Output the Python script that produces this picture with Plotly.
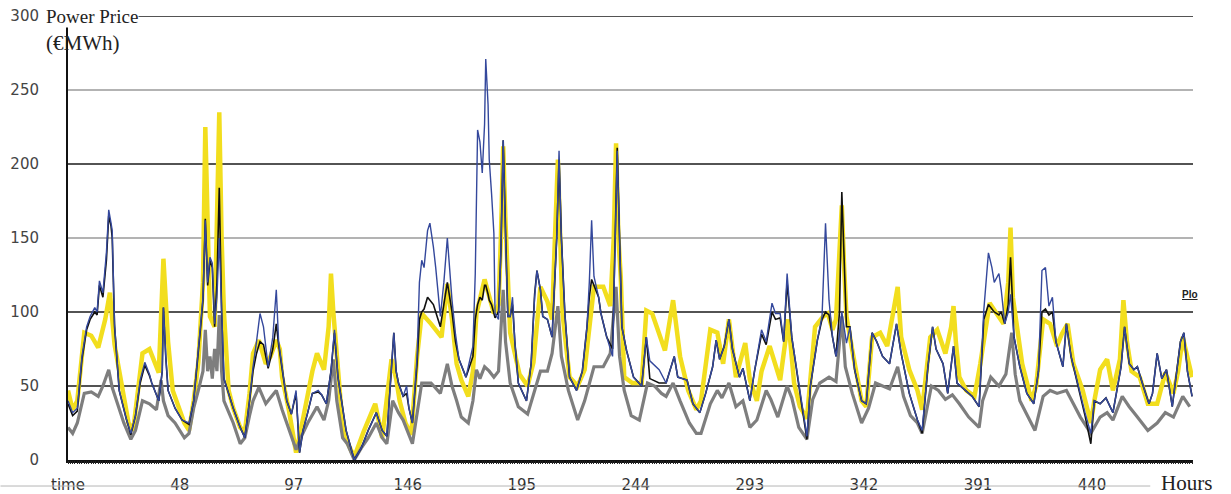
import plotly.graph_objects as go

# ---------------- data (hour, price in EUR/MWh) ----------------
yellow_hours = [0, 2, 4, 7, 10, 13, 16, 18, 20, 23,
                26, 28, 30, 32, 35, 38, 39, 41, 43, 45,
                48, 50, 52, 54, 56, 58, 59, 60, 61, 63,
                64, 65, 66, 67, 69, 71, 74, 76, 78, 79.5,
                82, 85, 87, 89.5, 91, 92, 95, 98, 100, 102.5,
                105, 107, 110, 112, 113, 114, 115.5, 118, 120, 123,
                127, 130, 132, 135, 137, 139, 141, 142.5, 145, 147.5,
                150, 152, 156, 160.5, 163, 165, 167, 169, 172, 174,
                175.5, 179, 183, 185, 186, 187, 188, 190, 194, 197.5,
                200, 203, 206, 208, 209, 210.5, 211.5, 212.5, 215.5, 219,
                222, 226, 230, 233, 234.5, 235.5, 236.5, 237.5, 239, 242.5,
                246.5, 248.5, 251, 254, 256.5, 260, 263, 266.5, 270, 272,
                276, 279, 281.5, 284, 287, 291, 293, 296, 298, 301.5,
                306, 309.5, 312, 314.5, 317.5, 321, 324.5, 326.5, 328.5, 330,
                331.5, 332.5, 333.5, 334.5, 337, 341, 343, 345.5, 349, 352,
                356.5, 358, 361.5, 365, 367, 370.5, 373.5, 377, 379.5, 380.5,
                381.5, 383, 386, 389.5, 392, 396, 399, 402, 404, 405,
                406, 407, 410, 414, 416, 419, 422, 425, 427, 429.5,
                431, 432, 436, 439.5, 441, 443.5, 446.5, 449, 452, 453.5,
                455, 457, 460.5, 464, 468, 471.5, 475, 477, 479, 481,
                483]
yellow_price = [47, 34, 40, 86, 84, 76, 95, 113, 78, 50,
                25, 20, 45, 72, 75, 62, 59, 136, 80, 47,
                33, 25, 20, 40, 66, 120, 225, 150, 97, 90,
                160, 235, 150, 100, 47, 35, 22, 19, 45, 72,
                81, 65, 70, 81, 75, 56, 33, 5, 20, 40,
                60, 72, 61, 90, 126, 100, 68, 23, 12, 2,
                19, 30, 38, 15, 40, 68, 55, 40, 25, 17,
                70, 99, 92, 83, 119, 95, 65, 54, 43, 60,
                99, 122, 99, 105, 150, 212, 160, 86, 58, 50,
                66, 117, 107, 95, 140, 203, 150, 99, 56, 50,
                61, 117, 117, 104, 150, 214, 150, 124, 56, 52,
                52, 101, 99, 85, 74, 108, 70, 47, 34, 40,
                88, 86, 65, 95, 56, 79, 54, 40, 60, 77,
                54, 95, 52, 36, 28, 90, 97, 99, 88, 95,
                140, 172, 130, 97, 74, 40, 36, 83, 86, 77,
                117, 83, 61, 47, 34, 83, 88, 72, 90, 104,
                80, 56, 47, 43, 65, 106, 99, 92, 120, 157,
                110, 99, 65, 40, 50, 95, 92, 77, 85, 92,
                75, 65, 47, 25, 40, 61, 68, 47, 68, 108,
                80, 60, 56, 38, 38, 59, 45, 60, 83, 70,
                56]

blue_hours = [0, 2, 4, 6, 8, 9.5, 11.5, 12.5, 13.5, 15,
              16.5, 17.5, 18.5, 19, 20, 22, 25, 27, 29, 31,
              33, 35, 36, 39, 40.5, 41, 42, 43, 46, 49,
              52, 54, 57, 58, 59, 60, 61, 62, 63, 64,
              65, 66, 67, 69, 71, 74, 76, 78, 79.5, 81,
              82.5, 84, 86, 88, 89.5, 90.5, 92, 94, 96, 98,
              99.5, 101, 103, 105, 107.5, 109, 111, 113, 114.5, 116,
              119.5, 123, 126, 129, 132.5, 135, 137, 139, 140, 141,
              142, 144, 145.5, 146.5, 148, 150, 151, 152, 153, 154.5,
              155.5, 157, 158, 160, 161.5, 163, 164, 165, 166.5, 168,
              171, 174, 175, 176, 177, 178, 179, 179.5, 180.5, 181,
              182, 183, 183.5, 185, 186, 187, 188, 189, 190, 191,
              192, 193.5, 197, 199, 200.5, 201.5, 203, 204, 206, 208,
              210, 211, 212, 213.5, 215.5, 218.5, 221, 223, 224, 225,
              226, 228, 229, 231.5, 234, 235.5, 236, 237, 238, 240,
              243, 246.5, 248.5, 250, 254, 257, 260.5, 262, 266, 268.5,
              271.5, 274, 277, 278.5, 280, 282, 284, 285.5, 288.5, 290,
              293, 295, 298, 300, 302.5, 304, 306, 307.5, 309, 311,
              313, 315, 317.5, 319, 322, 324, 325.5, 327, 328.5, 330,
              331.5, 332.5, 334.5, 336, 338, 341, 343, 345.5, 347.5, 350,
              353, 356, 358, 361.5, 365, 367, 369.5, 371.5, 373, 376,
              378, 380.5, 382, 385, 388.5, 391.5, 393.5, 395.5, 397, 398,
              400, 401, 402.5, 404, 405, 406.5, 409, 412, 415, 417,
              418.5, 420, 421.5, 423, 424.5, 427.5, 429, 431, 434, 437,
              439.5, 441, 443.5, 446, 449, 452.5, 454, 456, 458, 459.5,
              462, 464.5, 466, 468, 470, 472, 474.5, 476.5, 478, 479.5,
              481, 483]
blue_price = [40, 32, 35, 70, 90, 97, 103, 100, 121, 113,
              140, 169, 160, 155, 92, 47, 28, 18, 30, 54,
              66, 58, 52, 40, 60, 103, 70, 47, 35, 27,
              25, 40, 92, 110, 162, 120, 137, 133, 92, 110,
              150, 100, 55, 45, 35, 22, 15, 40, 63, 80,
              99, 90, 63, 83, 115, 80, 63, 40, 31, 47,
              5, 20, 32, 45, 47, 44, 38, 60, 88, 56,
              20, 0, 8, 20, 32, 20, 16, 60, 86, 60,
              52, 43, 50, 35, 25, 70, 120, 135, 130, 155,
              160, 144, 130, 97, 120, 150, 130, 108, 85, 68,
              56, 77, 126, 223, 215, 194, 227, 271, 240, 203,
              180, 153, 99, 95, 140, 216, 150, 97, 97, 110,
              80, 52, 40, 65, 110, 128, 115, 97, 95, 83,
              150, 209, 150, 99, 56, 47, 60, 90, 120, 162,
              124, 110, 99, 83, 70, 160, 209, 150, 90, 74,
              56, 50, 83, 67, 61, 52, 70, 56, 54, 38,
              32, 45, 63, 81, 68, 77, 95, 75, 56, 62,
              40, 60, 88, 80, 106, 99, 99, 80, 126, 83,
              63, 40, 16, 50, 81, 97, 160, 108, 83, 70,
              85, 100, 79, 90, 61, 40, 38, 86, 80, 70,
              65, 92, 72, 45, 27, 20, 63, 90, 75, 65,
              45, 77, 52, 48, 43, 36, 101, 140, 130, 120,
              126, 115, 92, 100, 112, 83, 63, 45, 38, 60,
              128, 130, 104, 110, 80, 63, 92, 70, 50, 32,
              18, 40, 38, 42, 32, 63, 90, 65, 61, 63,
              50, 38, 45, 72, 55, 61, 36, 63, 80, 86,
              60, 43]

black_hours = blue_hours
black_price = [38, 30, 33, 68, 88, 95, 100, 98, 118, 110,
               135, 165, 158, 150, 90, 47, 28, 17, 30, 52,
               64, 57, 52, 40, 60, 103, 70, 47, 35, 27,
               24, 40, 90, 108, 163, 118, 135, 130, 90, 120,
               184, 100, 55, 45, 35, 22, 15, 40, 60, 72,
               80, 78, 62, 75, 92, 78, 62, 40, 31, 45,
               5, 20, 32, 45, 46, 44, 38, 60, 86, 56,
               20, 0, 8, 20, 32, 20, 16, 60, 86, 60,
               52, 43, 45, 35, 25, 65, 95, 100, 102, 110,
               108, 105, 100, 90, 105, 120, 110, 100, 80, 68,
               56, 70, 95, 105, 110, 108, 118, 118, 112, 108,
               105, 100, 96, 100, 140, 216, 150, 97, 97, 105,
               80, 52, 40, 65, 112, 128, 115, 97, 95, 83,
               150, 203, 150, 99, 56, 47, 60, 90, 110, 122,
               118, 110, 99, 83, 75, 170, 211, 150, 90, 74,
               56, 50, 83, 55, 52, 52, 70, 56, 54, 38,
               32, 45, 63, 81, 68, 77, 95, 75, 56, 62,
               40, 60, 85, 78, 100, 95, 96, 80, 120, 83,
               63, 40, 14, 50, 81, 95, 100, 98, 83, 70,
               100, 181, 90, 90, 61, 40, 38, 86, 80, 70,
               65, 92, 72, 45, 27, 18, 63, 90, 75, 65,
               45, 77, 52, 48, 43, 36, 95, 105, 102, 100,
               98, 100, 92, 105, 137, 83, 63, 45, 38, 60,
               100, 102, 98, 100, 80, 63, 92, 70, 50, 30,
               11, 40, 38, 42, 32, 63, 90, 65, 61, 63,
               50, 38, 45, 72, 55, 61, 36, 63, 80, 86,
               60, 43]

grey_hours = [0, 2, 4, 7, 10, 13, 15, 17.5, 19, 21,
              24, 27, 29, 32, 35, 38, 40, 41, 43, 46,
              50, 52, 54, 56, 58, 59, 60, 61, 62, 63,
              64, 65, 66, 67, 69, 71, 74, 76, 78, 79.5,
              82, 85, 87, 89.5, 92, 95, 98, 100, 103, 107,
              110, 112, 114, 115.5, 118, 120, 123, 126, 129, 132.5,
              135, 137, 139.5, 142, 144, 148, 150, 152, 156, 160,
              163, 165, 167, 169, 172, 174, 175.5, 177, 179, 181,
              183, 185, 187, 188, 190, 193.5, 197.5, 200, 203, 206,
              208, 210.5, 212, 215, 219, 222, 226, 230, 233, 235.5,
              237, 239, 242, 245.5, 249, 252, 255, 257, 260, 263,
              267, 270, 272, 276, 279, 281, 284, 287, 290, 293,
              296, 300, 302, 305, 309, 311, 314, 317.5, 320, 323,
              327, 330, 332.5, 334, 337, 341, 344, 347, 350, 353,
              356.5, 359, 362, 365, 367, 371, 374, 377, 380, 383,
              387, 391.5, 393, 396.5, 400, 403, 405.5, 407, 409, 413,
              415.5, 419, 422, 425, 429, 432, 435, 439.5, 443.5, 446.5,
              449, 453, 456, 459, 464, 468, 471.5, 475, 479, 482]
grey_price = [22, 18, 25, 45, 46, 43, 50, 61, 49, 40,
              25, 14, 20, 40, 38, 34, 54, 40, 30, 25,
              15, 18, 35, 47, 60, 88, 60, 70, 55, 75,
              60, 98, 60, 40, 33, 25, 11, 15, 30, 40,
              49, 38, 42, 47, 34, 20, 7, 15, 25, 36,
              27, 40, 68, 40, 15, 11, 0, 8, 15, 25,
              15, 11, 40, 32, 27, 11, 30, 52, 52, 45,
              65, 50, 40, 29, 25, 40, 61, 55, 63, 60,
              56, 60, 115, 80, 52, 36, 31, 45, 60, 60,
              72, 104, 70, 47, 27, 40, 63, 63, 72, 117,
              70, 47, 30, 27, 52, 50, 45, 43, 52, 40,
              25, 18, 18, 38, 47, 42, 52, 36, 40, 22,
              27, 47, 41, 29, 50, 42, 22, 14, 41, 52,
              56, 53, 97, 63, 45, 25, 35, 52, 50, 48,
              63, 43, 30, 25, 18, 50, 47, 41, 44, 38,
              29, 22, 40, 56, 50, 58, 86, 58, 40, 27,
              20, 43, 47, 45, 47, 38, 29, 18, 29, 32,
              27, 43, 36, 30, 20, 25, 32, 29, 43, 36]

for h, v in [(yellow_hours, yellow_price), (blue_hours, blue_price),
             (black_hours, black_price), (grey_hours, grey_price)]:
    assert len(h) == len(v), (len(h), len(v))

tick_hours = [0, 48, 97, 146, 195, 244, 293, 342, 391, 440]
tick_labels = ["time", "48", "97", "146", "195", "244", "293", "342", "391", "440"]
price_ticks = [0, 50, 100, 150, 200, 250, 300]
grid_black = [50, 100, 200, 300]
grid_grey = [150, 250]
x_max = 483.4

# ---------------- figure ----------------
fig = go.Figure()
series = [
    ("yellow", yellow_hours, yellow_price, "#F2DE1E", 4.5),
    ("grey", grey_hours, grey_price, "#7E7E7E", 3.2),
    ("black", black_hours, black_price, "#111111", 1.6),
    ("blue", blue_hours, blue_price, "#34489C", 1.4),
]
for name, h, v, c, w in series:
    fig.add_trace(go.Scatter(x=h, y=v, mode="lines", name=name,
                             line=dict(color=c, width=w), showlegend=False,
                             hoverinfo="skip"))

# invisible trace that carries the hourly hatch axis
fig.add_trace(go.Scatter(x=[0, x_max], y=[0, 0], xaxis="x2", mode="markers",
                         marker=dict(opacity=0), showlegend=False,
                         hoverinfo="skip"))

for g in grid_black:
    fig.add_shape(type="line", xref="paper", yref="y", x0=0, x1=1, y0=g, y1=g,
                  line=dict(color="#1a1a1a", width=1.3), layer="below")
for g in grid_grey:
    fig.add_shape(type="line", xref="paper", yref="y", x0=0, x1=1, y0=g, y1=g,
                  line=dict(color="#9a9a9a", width=1.5), layer="below")

# faint line under the category labels
fig.add_shape(type="line", xref="paper", yref="paper", x0=-0.06, x1=0.962,
              y0=-0.0586, y1=-0.0586, line=dict(color="#b5b5b5", width=1))

fig.update_layout(
    width=1231, height=494,
    margin=dict(l=68, r=38, t=16, b=34, autoexpand=False),
    paper_bgcolor="white", plot_bgcolor="white",
    font=dict(family="DejaVu Sans", color="#333"),
    xaxis=dict(range=[0, x_max], tickmode="array", tickvals=tick_hours,
               ticktext=tick_labels, showgrid=False, zeroline=False,
               showline=True, linecolor="#111", linewidth=2.5,
               ticks="", ticklabelstandoff=9, automargin=False,
               tickfont=dict(family="DejaVu Sans", size=15, color="#333")),
    xaxis2=dict(range=[0, x_max], overlaying="x", anchor="y", side="bottom",
                tickmode="linear", tick0=0, dtick=1, ticks="outside",
                ticklen=3, tickwidth=1, tickcolor="#222",
                showticklabels=False, showgrid=False, zeroline=False,
                showline=False, automargin=False),
    yaxis=dict(range=[0, 300], tickmode="array", tickvals=price_ticks,
               showgrid=False, zeroline=False, showline=True,
               linecolor="#111", linewidth=2, ticks="", ticklabelstandoff=24,
               automargin=False,
               tickfont=dict(family="DejaVu Sans", size=15, color="#444")),
    annotations=[
        dict(text="Power Price", xref="paper", yref="paper", x=-0.0205, y=0.998,
             xanchor="left", yanchor="middle", showarrow=False,
             bgcolor="white", borderpad=0,
             font=dict(family="Liberation Serif", size=19, color="#222")),
        dict(text="(€MWh)", xref="paper", yref="paper", x=-0.021, y=0.94,
             xanchor="left", yanchor="middle", showarrow=False,
             font=dict(family="Liberation Serif", size=21, color="#222")),
        dict(text="Hours", xref="paper", yref="paper", x=0.9938, y=-0.052,
             xanchor="center", yanchor="middle", showarrow=False,
             font=dict(family="Liberation Serif", size=21, color="#222")),
        dict(text="<u><b>Plo</b></u>", xref="paper", yref="paper", x=0.997, y=0.372,
             xanchor="center", yanchor="middle", showarrow=False,
             font=dict(family="Liberation Sans", size=10, color="#222")),
    ],
)

fig.write_html("out.html")
